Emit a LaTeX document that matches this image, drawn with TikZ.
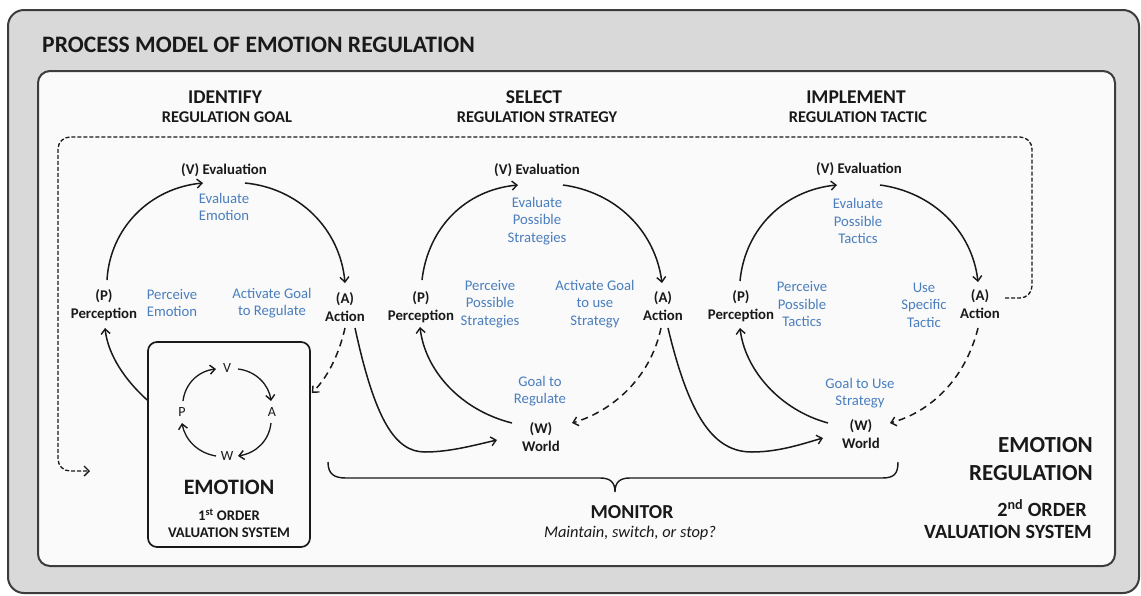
\documentclass[tikz,border=0pt]{standalone}
\usepackage{fontspec}
\setmainfont{Carlito}
\usetikzlibrary{arrows.meta,calc}
\definecolor{bluetxt}{RGB}{74,126,190}
\definecolor{outerfill}{RGB}{217,217,217}
\definecolor{inkc}{RGB}{25,25,25}
\begin{document}
\begin{tikzpicture}[x=1pt,y=-1pt,
  lbl/.style={font=\bfseries\fontsize{14.8}{18.5}\selectfont, align=center, inner sep=1pt, text=inkc},
  blu/.style={font=\fontsize{14.7}{17.5}\selectfont, align=center, inner sep=1pt, text=bluetxt},
  hdA/.style={font=\bfseries\fontsize{19.5}{22}\selectfont, text=inkc, inner sep=0pt},
  hdB/.style={font=\bfseries\fontsize{16.4}{19}\selectfont, text=inkc, inner sep=0pt},
  small/.style={font=\fontsize{14}{15}\selectfont, text=inkc, inner sep=1pt},
  arr/.style={line width=1.5pt, draw=inkc, -{Straight Barb[length=5pt,width=9pt,line width=1.4pt]}},
  dsh/.style={arr, dash pattern=on 7pt off 5pt},
  fb/.style={line width=1.3pt, draw=inkc, dash pattern=on 4pt off 2pt, -{Straight Barb[length=5pt,width=10pt,line width=1.3pt]}}
]
\useasboundingbox (0,0) rectangle (1141,595);
% frames
\draw[fill=outerfill, draw=inkc!85, line width=2pt, rounded corners=16] (8,10) rectangle (1139,593);
\draw[fill=white!98!black, draw=inkc!85, line width=2pt, rounded corners=12] (38,71) rectangle (1115,566);
\node[anchor=west, font=\bfseries\fontsize{23.6}{26}\selectfont, text=inkc, inner sep=0pt] (title) at (42,45) {PROCESS MODEL OF EMOTION REGULATION};

% headers
\node[hdA] (h1) at (225,97) {IDENTIFY};
\node[hdB] (h1b) at (227,117) {REGULATION GOAL};
\node[hdA] (h2) at (534,97) {SELECT};
\node[hdB] (h2b) at (537,117) {REGULATION STRATEGY};
\node[hdA] (h3) at (856,97) {IMPLEMENT};
\node[hdB] (h3b) at (858,117) {REGULATION TACTIC};

% cycle 1
\node[lbl] (V1) at (224,170) {(V) Evaluation};
\node[lbl] (P1) at (104,305) {(P)\\Perception};
\node[lbl] (A1) at (345,307) {(A)\\Action};
\node[blu] (E1) at (224,207) {Evaluate\\Emotion};
\node[blu] (PE1) at (172,303) {Perceive\\Emotion};
\node[blu] (AG1) at (272,303) {Activate Goal\\to Regulate};

% emotion box
\node[draw=inkc, line width=1.7pt, rounded corners=9, minimum width=162, minimum height=205, inner sep=0pt] (EB) at (229,444.5) {};
\node[small] (sV) at (227,368) {V};
\node[small] (sA) at (272,412) {A};
\node[small] (sW) at (227,456) {W};
\node[small] (sP) at (182,412) {P};
\node[font=\bfseries\fontsize{22}{24}\selectfont, text=inkc, inner sep=0pt] (emo) at (229,487) {EMOTION};
\node[font=\bfseries\fontsize{14.7}{16}\selectfont, text=inkc, inner sep=0pt] (emo2) at (229,515) {1\textsuperscript{st} ORDER};
\node[font=\bfseries\fontsize{14.7}{16}\selectfont, text=inkc, inner sep=0pt] (emo3) at (229,533) {VALUATION SYSTEM};

% cycle 2
\node[lbl] (V2) at (537,170) {(V) Evaluation};
\node[lbl] (P2) at (421,307) {(P)\\Perception};
\node[lbl] (A2) at (663,306) {(A)\\Action};
\node[blu] (E2) at (537,221) {Evaluate\\Possible\\Strategies};
\node[blu] (PP2) at (490,304) {Perceive\\Possible\\Strategies};
\node[blu] (AG2) at (595,304) {Activate Goal\\to use\\Strategy};
\node[blu] (G2) at (540,391) {Goal to\\Regulate};
\node[lbl] (W2) at (541,437) {(W)\\World};

% cycle 3
\node[lbl] (V3) at (859,169) {(V) Evaluation};
\node[lbl] (P3) at (741,306) {(P)\\Perception};
\node[lbl] (A3) at (980,304) {(A)\\Action};
\node[blu] (E3) at (858,221) {Evaluate\\Possible\\Tactics};
\node[blu] (PP3) at (802,304) {Perceive\\Possible\\Tactics};
\node[blu] (US3) at (924,305) {Use\\Specific\\Tactic};
\node[blu] (G3) at (860,393) {Goal to Use\\Strategy};
\node[lbl] (W3) at (861,434) {(W)\\World};

% right labels
\node[anchor=east, font=\bfseries\fontsize{23}{26}\selectfont, text=inkc, inner sep=0pt] (er1) at (1093,445) {EMOTION};
\node[anchor=east, font=\bfseries\fontsize{23}{26}\selectfont, text=inkc, inner sep=0pt] (er2) at (1093,473) {REGULATION};
\node[anchor=east, font=\bfseries\fontsize{20.2}{22}\selectfont, text=inkc, inner sep=0pt] (er3) at (1087,508) {2\textsuperscript{nd} ORDER};
\node[anchor=east, font=\bfseries\fontsize{20.2}{22}\selectfont, text=inkc, inner sep=0pt] (er4) at (1092,532) {VALUATION SYSTEM};

% monitor
\node[font=\bfseries\fontsize{19.8}{22}\selectfont, text=inkc, inner sep=0pt] (mon) at (632,512) {MONITOR};
\node[font=\itshape\fontsize{16.4}{18}\selectfont, text=inkc, inner sep=0pt] (mon2) at (630,533) {Maintain, switch, or stop?};
\draw[line width=1.4pt, draw=inkc] (328,462) .. controls (328,474) and (334,478) .. (346,478) -- (600,478) .. controls (610,478) and (615,482) .. (615,492) .. controls (615,482) and (620,478) .. (630,478) -- (882,478) .. controls (894,478) and (898,474) .. (898,462);

% cycle 1 connectors
\draw[arr] ($(P1)+(3,-25)$) .. controls (110,228) and (150,188) .. ($(V1)+(-21,13)$);
\draw[arr] ($(V1)+(21,13)$) .. controls (298,188) and (340,228) .. ($(A1)+(0,-24)$);
\draw[dsh] ($(A1)+(0,21)$) .. controls (340,350) and (330,375) .. ($(EB.east)+(1,-51.5)$);
\draw[arr] ($(EB.west)+(0,-44.5)$) .. controls (125,380) and (108,355) .. ($(P1)+(1,23)$);
\draw[arr] ($(A1)+(10,21)$) .. controls (375,420) and (395,452) .. (425,452) .. controls (450,452) and (475,445) .. ($(W2)+(-44,3)$);

% small cycle
\draw[arr, line width=1.3pt] ($(sP)+(1,-11)$) .. controls (185,384) and (198,371) .. ($(sV)+(-11,1)$);
\draw[arr, line width=1.3pt] ($(sV)+(11,1)$) .. controls (256,371) and (269,385) .. ($(sA)+(-1,-11)$);
\draw[arr, line width=1.3pt] ($(sA)+(-1,11)$) .. controls (269,441) and (256,453) .. ($(sW)+(11,0)$);
\draw[arr, line width=1.3pt] ($(sW)+(-11,0)$) .. controls (198,453) and (185,440) .. ($(sP)+(0,11)$);

% cycle 2 connectors
\draw[arr] ($(P2)+(1,-27)$) .. controls (428,228) and (465,190) .. ($(V2)+(-19,15)$);
\draw[arr] ($(V2)+(26,15)$) .. controls (615,192) and (655,230) .. ($(A2)+(-1,-23)$);
\draw[dsh] ($(A2)+(-2,22)$) .. controls (650,380) and (610,412) .. ($(W2)+(31,-14)$);
\draw[arr] ($(W2)+(-29,-14)$) .. controls (460,410) and (425,370) .. ($(P2)+(-1,20)$);
\draw[arr] ($(A2)+(5,22)$) .. controls (690,420) and (715,452) .. (752,452) .. controls (780,452) and (805,443) .. ($(W3)+(-38,4)$);

% cycle 3 connectors
\draw[arr] ($(P3)+(-1,-25)$) .. controls (745,228) and (785,190) .. ($(V3)+(-22,16)$);
\draw[arr] ($(V3)+(21,16)$) .. controls (932,192) and (972,230) .. ($(A3)+(-2,-22)$);
\draw[dsh] ($(A3)+(-2,24)$) .. controls (965,380) and (930,412) .. ($(W3)+(29,-11)$);
\draw[arr] ($(W3)+(-33,-11)$) .. controls (780,410) and (745,370) .. ($(P3)+(-1,22)$);

% feedback
\coordinate (fbend) at (90,471);
\draw[fb, rounded corners=12] ($(A3.east)+(4,-6)$) -- (1032,298) -- (1032,137) -- (58,137) -- (58,471) -- (fbend);
\end{tikzpicture}
\end{document}
